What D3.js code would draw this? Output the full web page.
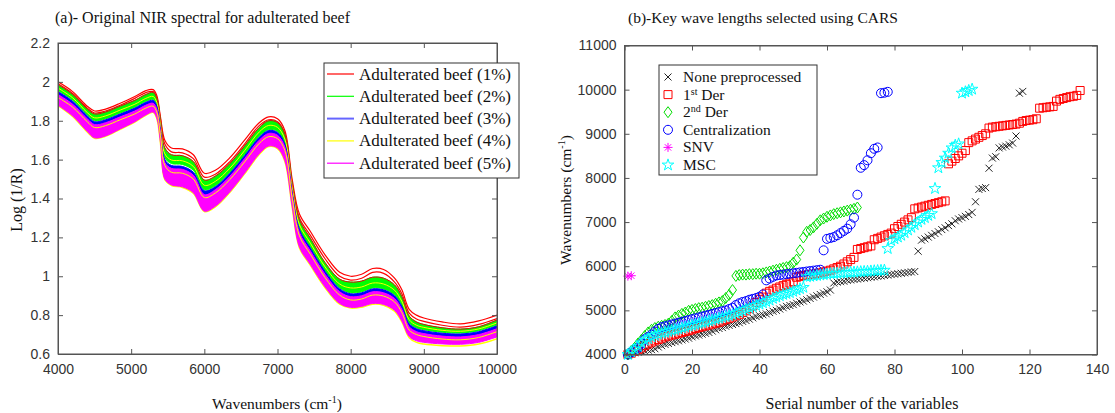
<!DOCTYPE html>
<html>
<head>
<meta charset="utf-8">
<script src="https://cdn.jsdelivr.net/npm/d3@7"></script>
<style>
body { margin: 0; background: #fff; }
svg text { font-family: "Liberation Serif", "Times New Roman", serif; fill: #111; }
.tick text { font-family: "Liberation Sans", Arial, sans-serif; font-size: 14px; fill: #333; }
.tick line, .domain { stroke: #555; }
</style>
</head>
<body>
<div id="chart"></div>
<script>
// ---------- (a) spectra ----------
var wave = [4000,4200,4400,4500,4650,4850,5050,5200,5300,5350,5400,5460,5550,5700,5850,6000,6150,6350,6550,6750,6880,7000,7100,7200,7300,7450,7650,7850,8000,8150,8300,8450,8600,8700,8800,8900,9000,9250,9500,9750,10000];

var redA = [2.000,1.950,1.875,1.850,1.860,1.890,1.925,1.955,1.960,1.930,1.820,1.700,1.660,1.655,1.625,1.530,1.545,1.610,1.700,1.790,1.820,1.810,1.750,1.500,1.320,1.230,1.110,1.020,1.000,1.010,1.040,1.035,0.990,0.930,0.830,0.800,0.785,0.765,0.755,0.770,0.800];
var redB = [1.990,1.940,1.865,1.840,1.850,1.880,1.915,1.945,1.950,1.920,1.810,1.680,1.640,1.635,1.605,1.510,1.525,1.590,1.680,1.775,1.805,1.795,1.735,1.480,1.300,1.210,1.090,1.000,0.980,0.990,1.020,1.015,0.970,0.910,0.810,0.780,0.768,0.748,0.738,0.752,0.782];
var greenHi = [1.985,1.935,1.860,1.835,1.845,1.875,1.905,1.935,1.945,1.915,1.800,1.660,1.625,1.620,1.590,1.495,1.515,1.580,1.670,1.765,1.800,1.790,1.730,1.475,1.290,1.195,1.070,0.985,0.970,0.975,0.995,0.990,0.955,0.895,0.795,0.765,0.752,0.735,0.728,0.740,0.775];
var greenLo = [1.955,1.905,1.830,1.800,1.810,1.840,1.870,1.900,1.910,1.880,1.760,1.610,1.580,1.575,1.545,1.445,1.465,1.535,1.625,1.720,1.755,1.745,1.685,1.440,1.245,1.150,1.030,0.940,0.915,0.920,0.940,0.935,0.905,0.850,0.760,0.735,0.725,0.712,0.708,0.720,0.750];
var blueHi = [1.950,1.900,1.825,1.795,1.805,1.835,1.865,1.895,1.905,1.875,1.755,1.600,1.570,1.565,1.535,1.440,1.460,1.530,1.620,1.715,1.750,1.740,1.680,1.435,1.240,1.145,1.025,0.935,0.910,0.915,0.935,0.930,0.900,0.845,0.755,0.730,0.720,0.707,0.703,0.715,0.745];
var blueLo = [1.928,1.878,1.803,1.773,1.783,1.813,1.843,1.873,1.883,1.853,1.733,1.578,1.548,1.543,1.513,1.418,1.438,1.508,1.598,1.693,1.728,1.718,1.658,1.413,1.218,1.123,1.003,0.913,0.888,0.893,0.913,0.908,0.878,0.823,0.733,0.708,0.698,0.685,0.681,0.693,0.723];
var yellowA = [1.920,1.870,1.795,1.765,1.775,1.805,1.835,1.865,1.875,1.845,1.725,1.570,1.535,1.530,1.500,1.405,1.428,1.498,1.588,1.683,1.718,1.708,1.648,1.403,1.208,1.113,0.993,0.903,0.878,0.883,0.903,0.898,0.868,0.813,0.723,0.700,0.690,0.677,0.673,0.685,0.715];
var yellowB = [1.968,1.918,1.842,1.815,1.825,1.855,1.885,1.915,1.925,1.895,1.778,1.630,1.598,1.594,1.565,1.468,1.488,1.556,1.646,1.742,1.776,1.766,1.706,1.458,1.265,1.170,1.048,0.960,0.940,0.945,0.965,0.960,0.928,0.870,0.776,0.748,0.737,0.722,0.717,0.729,0.760];
var yellowBot = [1.878,1.822,1.742,1.710,1.720,1.756,1.793,1.828,1.843,1.812,1.686,1.497,1.467,1.457,1.427,1.333,1.357,1.432,1.527,1.627,1.667,1.657,1.592,1.356,1.146,1.056,0.941,0.856,0.836,0.841,0.856,0.851,0.820,0.765,0.684,0.660,0.651,0.643,0.641,0.651,0.679];
var magHi = [1.935,1.885,1.810,1.780,1.790,1.820,1.850,1.880,1.890,1.860,1.740,1.585,1.555,1.550,1.520,1.420,1.445,1.515,1.605,1.700,1.735,1.725,1.665,1.420,1.225,1.130,1.010,0.920,0.895,0.900,0.920,0.915,0.885,0.830,0.740,0.715,0.705,0.692,0.688,0.700,0.730];
var magLo = [1.880,1.825,1.745,1.712,1.722,1.758,1.795,1.830,1.845,1.815,1.690,1.500,1.470,1.460,1.430,1.335,1.360,1.435,1.530,1.630,1.670,1.660,1.595,1.360,1.150,1.060,0.945,0.860,0.840,0.845,0.860,0.855,0.825,0.770,0.690,0.668,0.660,0.652,0.650,0.660,0.688];

var specLabels = ["Adulterated beef (1%)","Adulterated beef (2%)","Adulterated beef (3%)","Adulterated beef (4%)","Adulterated beef (5%)"];
var specColors = ["#ff0000","#00ff00","#0000ff","#ffff00","#ff00ff"];
var xTicksA = [4000,5000,6000,7000,8000,9000,10000];
var yTicksA = [0.6,0.8,1,1.2,1.4,1.6,1.8,2,2.2];

// ---------- (b) selected wavenumbers, sorted, by serial number ----------
var nonePre = [4000,4020,4040,4050,4070,4080,4100,4110,4130,4170,4200,4230,4250,4270,4290,4310,4330,4350,4370,4400,
  4420,4440,4460,4480,4500,4530,4560,4590,4610,4640,4660,4680,4700,4720,4750,4770,4800,4830,4860,4880,
  4900,4920,4950,4980,5000,5030,5060,5090,5110,5130,5160,5190,5210,5240,5270,5300,5330,5360,5390,5420,5460,
  5620,5640,5650,5660,5680,5690,5700,5710,5720,5730,5740,5750,5760,5770,5780,5790,5800,5810,5820,5830,5840,5850,5860,5870,5880,
  6340,6590,6620,6660,6700,6740,6780,6830,6870,6920,6960,7030,7070,7100,7130,7170,7220,7460,7740,7760,7780,8220,8450,8480,8680,8700,8720,8750,8790,8950,9920,9960];
var firstDer = [4000,4030,4070,4110,4150,4200,4240,4280,4310,4340,4370,4400,4420,4440,4460,4480,4500,4520,4540,4560,
  4590,4610,4630,4650,4670,4690,4710,4730,4760,4790,4820,4850,4880,4910,4950,4990,5040,5100,5180,5250,
  5300,5390,5430,5460,5500,5530,5560,5590,5620,5650,5750,5770,5790,5800,5810,5820,5830,5850,5870,5890,
  5910,5940,5970,6000,6050,6100,6150,6200,6380,6400,6420,6440,6460,6600,6630,6660,6690,6720,6750,6850,
  6900,6950,7000,7050,7100,7300,7320,7340,7360,7380,7400,7420,7440,7460,7480,8320,8380,8440,8500,8560,
  8620,8800,8840,8880,8920,8960,9000,9130,9150,9160,9170,9180,9190,9200,9210,9220,9240,9280,9300,9310,
  9320,9340,9580,9590,9600,9610,9620,9740,9780,9800,9820,9840,9850,9870,9980];
var secondDer = [4000,4080,4150,4250,4330,4420,4500,4560,4600,4630,4650,4670,4700,4760,4840,4880,4920,4950,4990,5010,
  5030,5050,5060,5080,5100,5120,5150,5180,5210,5280,5350,5460,5780,5800,5810,5810,5820,5820,5830,5830,
  5840,5860,5880,5900,5920,5940,5960,5980,6000,6080,6150,6360,6650,6780,6820,6880,6960,7040,7080,7120,
  7150,7180,7200,7220,7240,7260,7280,7300,7330];
var central = [4000,4050,4100,4150,4250,4350,4400,4450,4520,4580,4620,4640,4660,4680,4700,4720,4740,4760,4780,4800,
  4820,4840,4860,4880,4900,4920,4940,4960,4980,5000,5030,5060,5120,5160,5190,5210,5240,5260,5280,5310,
  5360,5680,5720,5760,5790,5800,5810,5820,5830,5840,5850,5860,5870,5880,5890,5900,5910,5920,6360,6620,
  6640,6660,6700,6750,6800,6850,6950,7100,7620,8230,8290,8400,8560,8660,8690,9920,9930,9950];
var snv = [5775,5785];
var msc = [4000,4060,4120,4180,4260,4320,4360,4400,4430,4460,4480,4500,4520,4540,4560,4580,4600,4620,4640,4660,
  4680,4700,4720,4740,4760,4780,4800,4820,4840,4860,4880,4900,4930,4960,4990,5020,5050,5080,5110,5140,
  5170,5200,5230,5270,5300,5330,5360,5380,5400,5430,5460,5490,5520,5760,5770,5780,5790,5800,5810,5820,
  5830,5835,5840,5845,5850,5855,5860,5865,5870,5875,5880,5885,5890,5895,5900,5905,5910,6400,6580,6620,
  6660,6700,6760,6820,6880,6940,7000,7060,7100,7150,7190,7760,8230,8350,8450,8560,8680,8740,8770,9920,
  9950,9980,10010];

var carsNames = ["None preprocessed","1st Der","2nd Der","Centralization","SNV","MSC"];
var carsColors = ["#222222","#ff0000","#00dd00","#0000ff","#ff00ff","#00ffff"];
var carsMarks = ["x","square","diamond","circle","asterisk","star"];
var xTicksB = [0,20,40,60,80,100,120,140];
var yTicksB = [4000,5000,6000,7000,8000,9000,10000,11000];

var svg = d3.select("#chart").append("svg")
  .attr("width", 1115).attr("height", 413);

// ===================== panel (a) =====================
var x = d3.scaleLinear().domain([4000, 10000]).range([58, 497]);
var y = d3.scaleLinear().domain([0.6, 2.2]).range([354, 43]);

svg.append("defs").append("clipPath").attr("id", "clipA")
  .append("rect").attr("x", 58).attr("y", 43).attr("width", 439).attr("height", 311);

var gA = svg.append("g").attr("clip-path", "url(#clipA)");

var line = function(vals) {
  return d3.line().curve(d3.curveCatmullRom)
    .x(function(d, i) { return x(wave[i]) })
    .y(function(d) { return y(d) })(vals);
};
var band = function(hi, lo) {
  return d3.area().curve(d3.curveCatmullRom)
    .x(function(d, i) { return x(wave[i]) })
    .y0(function(d, i) { return y(lo[i]) })
    .y1(function(d) { return y(d) })(hi);
};

function drawLine(vals, color, w) {
  gA.append("path").attr("d", line(vals)).attr("fill", "none")
    .attr("stroke", color).attr("stroke-width", w);
}
function drawBand(hi, lo, color) {
  gA.append("path").attr("d", band(hi, lo)).attr("fill", color)
    .attr("stroke", color).attr("stroke-width", 1);
}

drawLine(redA, "#ff0000", 1.2);
drawLine(redB, "#ff0000", 1.2);
drawBand(greenHi, greenLo, "#00ff00");
drawLine(greenHi, "#d01010", 1);
drawLine(yellowB, "#ffff00", 1);
drawBand(blueHi, blueLo, "#0000ff");
drawLine(yellowBot, "#ffff00", 1.5);
drawBand(magHi, magLo, "#ff00ff");
drawLine(yellowA, "#ffff00", 1);

// axes (ticks point inward, like matlab)
svg.append("g").attr("transform", "translate(0,354)")
  .call(d3.axisBottom(x).tickValues(xTicksA).tickSizeInner(-5).tickSizeOuter(0).tickPadding(10).tickFormat(d3.format("d")));
svg.append("g").attr("transform", "translate(0,43)")
  .call(d3.axisTop(x).tickValues(xTicksA).tickSizeInner(-5).tickSizeOuter(0).tickFormat(""));
svg.append("g").attr("transform", "translate(58,0)")
  .call(d3.axisLeft(y).tickValues(yTicksA).tickSizeInner(-5).tickSizeOuter(0).tickPadding(8).tickFormat(d3.format("~g")));
svg.append("g").attr("transform", "translate(497,0)")
  .call(d3.axisRight(y).tickValues(yTicksA).tickSizeInner(-5).tickSizeOuter(0).tickFormat(""));
svg.append("rect").attr("x", 58).attr("y", 43).attr("width", 439).attr("height", 311)
  .attr("fill", "none").attr("stroke", "#555");

svg.append("text").attr("x", 55).attr("y", 23).style("font-size", "16px")
  .text("(a)- Original NIR spectral for adulterated beef");

var xlabA = svg.append("text").attr("x", 277).attr("y", 409).attr("text-anchor", "middle").style("font-size", "15.5px");
xlabA.append("tspan").text("Wavenumbers (cm");
xlabA.append("tspan").attr("dy", -6).style("font-size", "10px").text("-1");
xlabA.append("tspan").attr("dy", 6).text(")");

svg.append("text").attr("transform", "translate(22,200) rotate(-90)")
  .attr("text-anchor", "middle").style("font-size", "16px").text("Log (1/R)");

// legend (a)
var legA = svg.append("g");
legA.append("rect").attr("x", 324).attr("y", 63).attr("width", 195).attr("height", 115)
  .attr("fill", "#fff").attr("stroke", "#333");
specLabels.forEach(function(lab, i) {
  var yy = 74 + i * 22.3;
  legA.append("line").attr("x1", 327).attr("x2", 354).attr("y1", yy).attr("y2", yy)
    .attr("stroke", specColors[i]).attr("stroke-width", i == 2 ? 2 : 1.2)
    .attr("opacity", i == 2 ? 0.6 : 1);
  legA.append("text").attr("x", 359).attr("y", yy + 5.5).style("font-size", "17px").text(lab);
});

// ===================== panel (b) =====================
var xb = d3.scaleLinear().domain([0, 140]).range([624.5, 1097]);
var yb = d3.scaleLinear().domain([4000, 11000]).range([354.5, 45.5]);

var symPath = {
  x: "M-3.5,-3.5L3.5,3.5M-3.5,3.5L3.5,-3.5",
  square: "M-4,-4H4V4H-4Z",
  diamond: "M0,-5.5L4,0L0,5.5L-4,0Z",
  circle: "M4.5,0A4.5,4.5,0,1,1,-4.5,0A4.5,4.5,0,1,1,4.5,0Z",
  asterisk: "M-4.5,0H4.5M0,-4.5V4.5M-3.2,-3.2L3.2,3.2M-3.2,3.2L3.2,-3.2",
  star: d3.symbol().type(d3.symbolStar).size(42)()
};

var seriesB = [nonePre, firstDer, secondDer, central, snv, msc];
seriesB.forEach(function(vals, k) {
  svg.append("g").selectAll("path").data(vals).join("path")
    .attr("transform", function(d, i) { return "translate(" + xb(i + 1) + "," + yb(d) + ")" })
    .attr("d", symPath[carsMarks[k]])
    .attr("fill", "none").attr("stroke", carsColors[k]).attr("stroke-width", 1);
});

svg.append("g").attr("transform", "translate(0,354.5)")
  .call(d3.axisBottom(xb).tickValues(xTicksB).tickSizeInner(-5).tickSizeOuter(0).tickPadding(10));
svg.append("g").attr("transform", "translate(0,45.5)")
  .call(d3.axisTop(xb).tickValues(xTicksB).tickSizeInner(-5).tickSizeOuter(0).tickFormat(""));
svg.append("g").attr("transform", "translate(624.5,0)")
  .call(d3.axisLeft(yb).tickValues(yTicksB).tickSizeInner(-5).tickSizeOuter(0).tickPadding(8).tickFormat(d3.format("d")));
svg.append("g").attr("transform", "translate(1097,0)")
  .call(d3.axisRight(yb).tickValues(yTicksB).tickSizeInner(-5).tickSizeOuter(0).tickFormat(""));
svg.append("rect").attr("x", 624.5).attr("y", 45.5).attr("width", 472.5).attr("height", 309)
  .attr("fill", "none").attr("stroke", "#555");

svg.append("text").attr("x", 628).attr("y", 23).style("font-size", "15.5px")
  .text("(b)-Key wave lengths selected using CARS");

svg.append("text").attr("x", 862).attr("y", 409).attr("text-anchor", "middle").style("font-size", "16px")
  .text("Serial number of the variables");

var ylabB = svg.append("text").attr("transform", "translate(571,200) rotate(-90)")
  .attr("text-anchor", "middle").style("font-size", "15.5px");
ylabB.append("tspan").text("Wavenumbers (cm");
ylabB.append("tspan").attr("dy", -6).style("font-size", "10px").text("-1");
ylabB.append("tspan").attr("dy", 6).text(")");

// legend (b)
var legB = svg.append("g");
legB.append("rect").attr("x", 659).attr("y", 65).attr("width", 158).attr("height", 110)
  .attr("fill", "#fff").attr("stroke", "#333");
carsNames.forEach(function(name, i) {
  var yy = 77 + i * 17.6;
  legB.append("path").attr("transform", "translate(668," + yy + ")")
    .attr("d", symPath[carsMarks[i]]).attr("fill", "none")
    .attr("stroke", carsColors[i]).attr("stroke-width", 1);
  var t = legB.append("text").attr("x", 683).attr("y", yy + 5).style("font-size", "15.5px");
  if (i == 1 || i == 2) {
    t.append("tspan").text(i == 1 ? "1" : "2");
    t.append("tspan").attr("dy", -5).style("font-size", "10px").text(i == 1 ? "st" : "nd");
    t.append("tspan").attr("dy", 5).text(" Der");
  } else {
    t.text(name);
  }
});
</script>
</body>
</html>
